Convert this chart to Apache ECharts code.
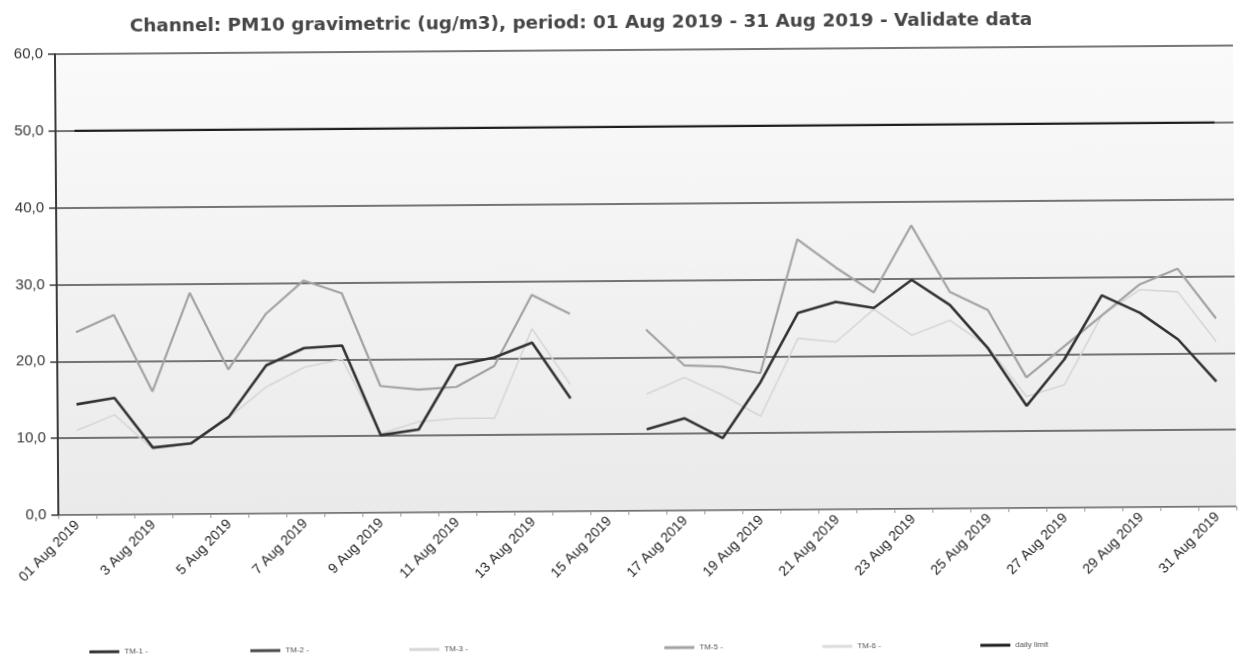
<!DOCTYPE html>
<html>
<head>
<meta charset="utf-8">
<script src="https://cdn.jsdelivr.net/npm/echarts@6/dist/echarts.min.js"></script>
<style>
html,body{margin:0;padding:0;background:#fff;overflow:hidden;}
#wrap{width:1242px;height:659px;transform:rotate(-0.42deg);transform-origin:50% 50%;}
#chart{width:1242px;height:659px;}
</style>
</head>
<body>
<div id="wrap"><div id="chart"></div></div>
<script>
const categories = ['01 Aug 2019','2 Aug 2019','3 Aug 2019','4 Aug 2019','5 Aug 2019','6 Aug 2019','7 Aug 2019','8 Aug 2019','9 Aug 2019','10 Aug 2019','11 Aug 2019','12 Aug 2019','13 Aug 2019','14 Aug 2019','15 Aug 2019','16 Aug 2019','17 Aug 2019','18 Aug 2019','19 Aug 2019','20 Aug 2019','21 Aug 2019','22 Aug 2019','23 Aug 2019','24 Aug 2019','25 Aug 2019','26 Aug 2019','27 Aug 2019','28 Aug 2019','29 Aug 2019','30 Aug 2019','31 Aug 2019'];
const tm1 = [14.4,15.2,8.7,9.2,12.6,19.3,21.5,21.8,10.1,10.8,19.1,20.1,22.0,14.7,null,10.6,12.0,9.4,16.6,25.6,27.0,26.2,29.8,26.5,20.8,13.3,19.3,27.6,25.3,21.8,16.3];
const tm2 = [null,null,null,null,null,null,null,null,null,null,null,null,null,null,null,null,null,null,null,null,null,null,null,null,null,null,null,null,null,null,null];
const tm3 = [11.0,13.0,8.5,9.2,12.5,16.5,19.0,20.0,10.3,11.8,12.2,12.2,23.8,16.5,null,15.2,17.3,15.0,12.2,22.3,21.8,26.0,22.6,24.5,21.0,14.5,16.0,25.0,28.3,28.0,21.5];
const tm5 = [23.8,26.0,16.0,28.8,18.8,26.0,30.3,28.6,16.5,16.0,16.3,19.0,28.2,25.7,null,23.6,18.9,18.7,17.8,35.2,31.5,28.2,36.9,28.2,25.8,17.0,21.0,25.0,29.0,31.0,24.5];
const tm6 = [null,null,null,null,null,null,null,null,null,null,null,null,null,null,null,null,null,null,null,null,null,null,null,null,null,null,null,null,null,null,null];
const dailyLimit = [50,50,50,50,50,50,50,50,50,50,50,50,50,50,50,50,50,50,50,50,50,50,50,50,50,50,50,50,50,50,50];
const yTickLabels = ['0,0','10,0','20,0','30,0','40,0','50,0','60,0'];
const seriesNames = ['TM-1 -','TM-2 -','TM-3 -','TM-5 -','TM-6 -','daily limit'];

const chart = echarts.init(document.getElementById('chart'), null, {renderer:'canvas'});
const FONT = 'Liberation Sans';
const colors = ['#333333','#4a4a4a','#d6d6d6','#a3a3a3','#dcdcdc','#1e1e1e'];
const widths = [2.6,2.6,1.6,2.2,1.6,2.4];
const dataSets = [tm1,tm2,tm3,tm5,tm6,dailyLimit];
const legendLeft = [82,243,402,657,815,973];

const legends = seriesNames.map((n,i)=>({
  data:[n], left:legendLeft[i], top:639, itemWidth:30, itemHeight:3, itemGap:4,
  icon:'rect', selectedMode:false,
  textStyle:{fontSize:8, color:'#555', fontFamily:FONT}
}));

chart.setOption({
  animation:false,
  backgroundColor:'#ffffff',
  color:colors,
  title:{
    text:'Channel: PM10 gravimetric (ug/m3), period: 01 Aug 2019 - 31 Aug 2019 - Validate data',
    left:127, top:9,
    textStyle:{fontSize:18.4, fontWeight:'bold', color:'#464646', fontFamily:'DejaVu Sans'}
  },
  legend:legends,
  grid:{
    left:57, right:7, top:50, bottom:148, show:true, borderWidth:0,
    backgroundColor:new echarts.graphic.LinearGradient(0,0,0,1,[{offset:0,color:'#fafafa'},{offset:1,color:'#eaeaea'}])
  },
  xAxis:{
    type:'category', data:categories, boundaryGap:true,
    axisLine:{show:true, lineStyle:{color:'#9a9a9a', width:1.2}},
    axisTick:{show:true, interval:0, length:4, lineStyle:{color:'#999'}},
    axisLabel:{interval:1, rotate:45, fontSize:14, color:'#1e1e1e', fontFamily:FONT, margin:8}
  },
  yAxis:{
    type:'value', min:0, max:60, interval:10,
    axisLine:{show:true, lineStyle:{color:'#3a3a3a', width:2}},
    axisTick:{show:true, length:7, lineStyle:{color:'#3a3a3a', width:1.5}},
    axisLabel:{fontSize:15, color:'#333', fontFamily:FONT, margin:12,
      formatter:(v)=>yTickLabels[Math.round(v/10)]},
    splitLine:{show:true, lineStyle:{color:'#4a4a4a', width:1.6}}
  },
  series:seriesNames.map((n,i)=>({
    name:n, type:'line', data:dataSets[i], symbol:'none', connectNulls:false,
    lineStyle:{color:colors[i], width:widths[i]}, itemStyle:{color:colors[i]},
    z: [5,4,2,3,1,6][i]
  }))
});
</script>
</body>
</html>
